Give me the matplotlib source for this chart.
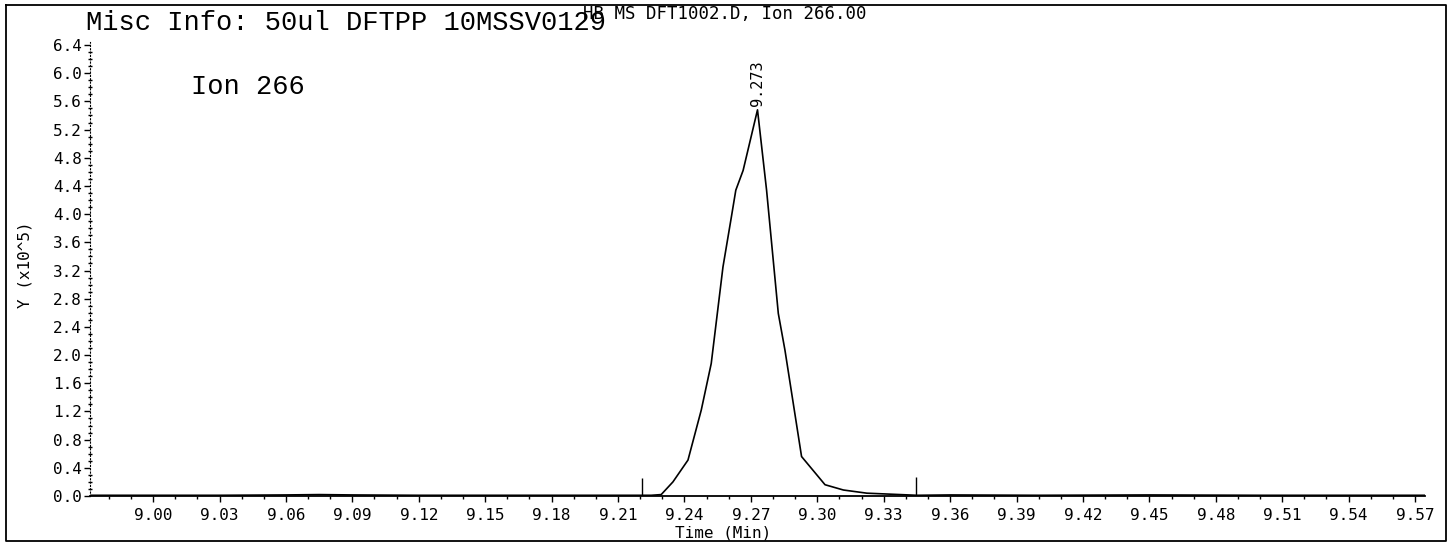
import matplotlib
matplotlib.use('Agg')
import matplotlib.pyplot as plt
from matplotlib.ticker import MultipleLocator, FormatStrFormatter
from matplotlib.lines import Line2D

# Ion 266 trace (time in min, abundance in 10^5)
time = [8.972, 9.000, 9.030, 9.060, 9.075, 9.090, 9.120, 9.150, 9.180, 9.210,
        9.225, 9.2295, 9.2348, 9.2416, 9.2476, 9.2521, 9.2574, 9.2612, 9.2632,
        9.2665, 9.2730, 9.2771, 9.2824, 9.2854, 9.2929, 9.3035, 9.3118, 9.3224,
        9.3375, 9.3450, 9.360, 9.400, 9.450, 9.500, 9.5745]
abund = [0.01, 0.01, 0.01, 0.015, 0.02, 0.015, 0.01, 0.01, 0.01, 0.01,
         0.01, 0.02, 0.20, 0.51, 1.22, 1.88, 3.25, 3.96, 4.34,
         4.62, 5.48, 4.34, 2.59, 2.07, 0.56, 0.16, 0.085, 0.04,
         0.02, 0.01, 0.015, 0.01, 0.015, 0.01, 0.01]
peak_rt = 9.273
markers = [9.2207, 9.3447]
marker_h = [0.26, 0.27]

W, H = 1452, 543
fig = plt.figure(figsize=(W / 100, H / 100), dpi=100)
ax = fig.add_axes([90 / W, (H - 496) / H, 1335 / W, 454.5 / H])

ax.plot(time, abund, color='black', lw=1.2)
ax.vlines(markers, 0, marker_h, color='black', lw=1.0)
ax.text(peak_rt, max(abund) + 0.06, '%.3f' % peak_rt, rotation=90,
        ha='center', va='bottom', family='DejaVu Sans Mono', fontsize=11)

ax.set_xlim(8.9715, 9.5745)
ax.set_ylim(0, 6.45)
ax.xaxis.set_major_locator(MultipleLocator(0.03))
ax.xaxis.set_minor_locator(MultipleLocator(0.01))
ax.xaxis.set_major_formatter(FormatStrFormatter('%.2f'))
ax.yaxis.set_major_locator(MultipleLocator(0.4))
ax.yaxis.set_minor_locator(MultipleLocator(0.1))
ax.yaxis.set_major_formatter(FormatStrFormatter('%.1f'))
ax.tick_params(axis='x', which='major', direction='out', length=4, width=1, pad=5)
ax.tick_params(axis='x', which='minor', direction='out', length=2.5, width=1)
ax.tick_params(axis='y', which='major', direction='out', length=4, width=1, pad=2)
ax.tick_params(axis='y', which='minor', direction='inout', length=3, width=1)
for lab in ax.get_xticklabels() + ax.get_yticklabels():
    lab.set_family('DejaVu Sans Mono')
    lab.set_fontsize(11.5)

for s in ['top', 'right']:
    ax.spines[s].set_visible(False)
ax.spines['left'].set_linestyle((0, (1, 2)))
ax.spines['bottom'].set_linewidth(1.3)

ax.set_xlabel('Time (Min)', family='DejaVu Sans Mono', fontsize=11.5)
ax.xaxis.set_label_coords((723 - 90) / 1335, -(526 - 496) / 454.5)

fig.text(25 / W, 1 - 265 / H, 'Y (x10^5)', rotation=90, ha='center', va='center',
         family='DejaVu Sans Mono', fontsize=11.5)
fig.text(86 / W, 1 - 30 / H, 'Misc Info: 50ul DFTPP 10MSSV0129', ha='left',
         va='baseline', family='Liberation Mono', fontsize=19.5)
fig.text(191 / W, 1 - 87 / H, 'Ion 266', ha='left', va='center',
         family='Liberation Mono', fontsize=19.5)
fig.text(583 / W, 1 - 14 / H, 'HB MS DFT1002.D, Ion 266.00', ha='left', va='center',
         family='DejaVu Sans Mono', fontsize=12.5)

# outer frame of the printout
fx = [6 / W, 1446 / W, 1446 / W, 6 / W, 6 / W]
fy = [1 - 5 / H, 1 - 5 / H, 1 - 541 / H, 1 - 541 / H, 1 - 5 / H]
fig.add_artist(Line2D(fx, fy, color='black', lw=1.3))

fig.savefig('out.png', dpi=100)
